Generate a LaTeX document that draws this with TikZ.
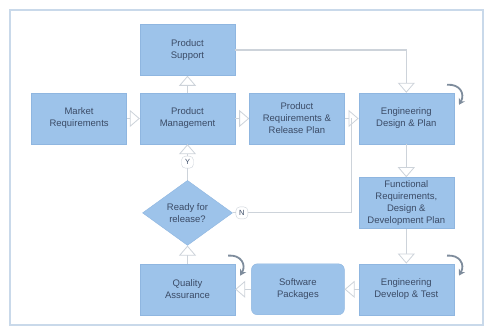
\documentclass[tikz,border=0pt]{standalone}
\usepackage{fontspec}
\setmainfont{Liberation Sans}
\usepackage{tikz}
\usetikzlibrary{shapes.geometric, arrows.meta, positioning, calc}
\definecolor{boxblue}{HTML}{9DC3EA}
\definecolor{boxedge}{HTML}{8FB6E0}
\definecolor{textblue}{HTML}{3B4B66}
\definecolor{linegray}{HTML}{CDD3DA}
\definecolor{loopgray}{HTML}{7E8C9C}
\definecolor{framecol}{HTML}{C9D9EA}
\tikzstyle{stage} = [rectangle, minimum width=95pt, minimum height=51pt, text centered, align=center, draw=boxedge, fill=boxblue, text=textblue, font=\fontsize{9.5}{12}\selectfont, inner sep=1pt]
\tikzstyle{package} = [stage, rounded corners=6pt, minimum width=93pt]
\tikzstyle{decision} = [diamond, aspect=1.4, minimum width=90pt, minimum height=65pt, inner sep=0pt, text centered, align=center, draw=boxedge, fill=boxblue, text=textblue, font=\fontsize{9.5}{12}\selectfont]
\tikzstyle{answer} = [rectangle, rounded corners=4pt, inner sep=1.5pt, minimum size=12pt, draw=linegray, fill=white, text=textblue, font=\fontsize{7.5}{8}\selectfont]
\tikzstyle{flow} = [draw=linegray, line width=1.2pt, -{Triangle[length=10pt, width=17pt, fill=white, line width=0.8pt]}]
\tikzstyle{link} = [draw=linegray, line width=1.2pt]
\tikzstyle{rework} = [draw=loopgray, line width=1.8pt, -{Stealth[length=6pt, width=7pt]}]

\begin{document}
\begin{tikzpicture}[x=1pt, y=1pt]
	\useasboundingbox (0,0) rectangle (487,329);
	\draw[framecol, line width=1.5pt] (10,4) rectangle (483,319);

	\node (pm) [stage] at (187.5,210.5) {Product\\Management};
	\node (mr) [stage, left=13pt of pm] {Market\\Requirements};
	\node (ps) [stage, above=17pt of pm] {Product\\Support};
	\node (prr) [stage, right=14pt of pm] {Product\\Requirements \&\\Release Plan};
	\node (edp) [stage, right=14pt of prr] {Engineering\\Design \& Plan};
	\node (frd) [stage, below=33pt of edp] {Functional\\Requirements,\\Design \&\\Development Plan};
	\node (edt) [stage, below=35pt of frd] {Engineering\\Develop \& Test};
	\node (sp) [package, left=14pt of edt] {Software\\Packages};
	\node (qa) [stage, left=16pt of sp] {Quality\\Assurance};
	\node (rr) [decision, below=36pt of pm] {Ready for\\release?};
	\node (yes) [answer] at ($(pm.south)!0.5!(rr.north)$) {Y};
	\node (no) [answer, right=3pt of rr] {N};
	\coordinate (join) at ($(prr.east)!0.5!(edp.west)$);

	% main flow
	\draw[flow] (mr) -- (pm);
	\draw[flow] (pm) -- (ps);
	\draw[flow] (pm) -- (prr);
	\draw[flow] (prr) -- (edp);
	\draw[flow] (ps.east) -| (edp.north);
	\draw[flow] (edp) -- (frd);
	\draw[flow] (frd) -- (edt);
	\draw[flow] (edt) -- (sp);
	\draw[flow] (sp) -- (qa);
	\draw[flow] (qa) -- (rr);
	\draw[link] (rr.north) -- (yes);
	\draw[flow] (yes) -- (pm);
	\draw[link] (rr.east) -- (no);
	\draw[link] (no) -| (join);

	% iterations
	\foreach \n in {edp, edt, qa}
		\draw[rework] ([shift={(-7,8)}]\n.north east) to[out=5, in=60, looseness=1.4] ([shift={(5,-12)}]\n.north east);
\end{tikzpicture}
\end{document}
